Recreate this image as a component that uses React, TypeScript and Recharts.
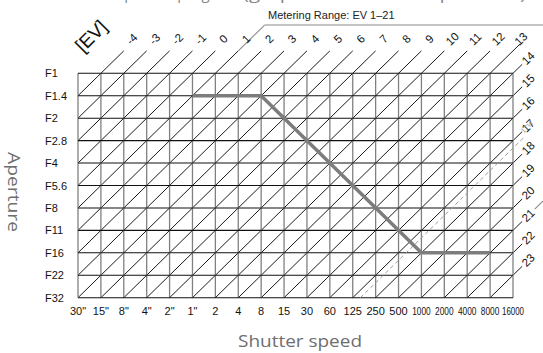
import React from 'react';
import { ComposedChart, XAxis, YAxis, Line, ReferenceLine, ReferenceDot } from 'recharts';

const shutterLabels = ['30"', '15"', '8"', '4"', '2"', '1"', '2', '4', '8', '15', '30', '60', '125', '250', '500', '1000', '2000', '4000', '8000', '16000'];
const apertureLabels = ['F1', 'F1.4', 'F2', 'F2.8', 'F4', 'F5.6', 'F8', 'F11', 'F16', 'F22', 'F32'];
const evTopLabels = [-4, -3, -2, -1, 0, 1, 2, 3, 4, 5, 6, 7, 8, 9, 10, 11, 12, 13];
const evRightLabels = [14, 15, 16, 17, 18, 19, 20, 21, 22, 23];
const programShutter = ['1"', '8', '1000', '8000'];
const programAperture = ['F1.4', 'F1.4', 'F16', 'F16'];
const meteringRange = [1, 21];
const dashedEV = 17 + 1 / 3;
const dashedLabel = '17⅓';

const W = 543;
const H = 353;
const nX = shutterLabels.length - 1;
const nY = apertureLabels.length - 1;
// EV 0 = F1 at 1 second
const evOffset = shutterLabels.indexOf('1"') + apertureLabels.indexOf('F1');

const programData = programShutter.map((s, n) => ({
  x: shutterLabels.indexOf(s),
  y: apertureLabels.indexOf(programAperture[n]),
}));

const FONT = '"Liberation Sans", Arial, sans-serif';
const TITLE_FONT = '"Open Sans", Lato, sans-serif';

const rotText = (txt: string, size: number, color: string, rot = -45) => (props: any) => (
  <text
    x={props.cx}
    y={props.cy}
    transform={`rotate(${rot} ${props.cx} ${props.cy})`}
    textAnchor="middle"
    dominantBaseline="central"
    fontSize={size}
    fill={color}
    fontFamily={FONT}
  >
    {txt}
  </text>
);

const XTick = (props: any) => {
  const label = shutterLabels[props.payload.value];
  const extra: any = {};
  let size = 11;
  if (label.length === 4) { extra.textLength = 18.5; extra.lengthAdjust = 'spacingAndGlyphs'; size = 10.5; }
  if (label.length === 5) { extra.textLength = 22; extra.lengthAdjust = 'spacingAndGlyphs'; size = 10.5; }
  return (
    <text x={props.x} y={315} textAnchor="middle" fontSize={size} fill="#111" fontFamily={FONT} {...extra}>
      {label}
    </text>
  );
};

const YTick = (props: any) => (
  <text x={45} y={props.y + 4} textAnchor="start" fontSize={11} fill="#111" fontFamily={FONT}>
    {apertureLabels[props.payload.value]}
  </text>
);

function evSegment(ev: number) {
  const k = ev + evOffset;
  const j0 = Math.min(nY, k);
  const i0 = k - j0;
  const i1 = Math.min(nX, k);
  const j1 = k - i1;
  return [{ x: i0, y: j0 }, { x: i1, y: j1 }];
}

export default function App() {
  const allEV = evTopLabels.concat(evRightLabels);
  const kStart = meteringRange[0] + evOffset;
  const kEnd = meteringRange[1] + evOffset;
  const kDash = dashedEV + evOffset;
  const bracketY = -2.15;
  return (
    <div style={{ position: 'absolute', left: 0, top: 0, width: W, height: H, background: '#fff' }}>
      <ComposedChart width={W} height={H} data={programData} margin={{ top: 73.3, right: 30, bottom: 30.3, left: 0 }}>
        <XAxis
          type="number"
          dataKey="x"
          domain={[0, nX]}
          ticks={shutterLabels.map((_, i) => i)}
          interval={0}
          tick={<XTick />}
          axisLine={false}
          tickLine={false}
          height={25}
          allowDataOverflow
        />
        <YAxis
          type="number"
          dataKey="y"
          domain={[0, nY]}
          reversed
          ticks={apertureLabels.map((_, i) => i)}
          interval={0}
          tick={<YTick />}
          axisLine={false}
          tickLine={false}
          width={78}
          allowDataOverflow
        />
        {allEV.map((ev) => (
          <ReferenceLine key={'ev' + ev} segment={evSegment(ev)} stroke="#000" strokeWidth={0.9} ifOverflow="visible" />
        ))}
        {evTopLabels.map((ev) => {
          const k = ev + evOffset;
          const ext = k === nX - 1 ? 1.3 : 1;
          return (
            <ReferenceLine key={'evt' + ev} segment={[{ x: k, y: 0 }, { x: k + ext, y: -ext }]} stroke="#000" strokeWidth={0.9} ifOverflow="visible" />
          );
        })}
        {evRightLabels.map((ev) => {
          const k = ev + evOffset;
          return (
            <ReferenceLine key={'evr' + ev} segment={[{ x: nX, y: k - nX }, { x: nX + 0.4, y: k - nX - 0.4 }]} stroke="#000" strokeWidth={0.9} ifOverflow="visible" />
          );
        })}
        {/* metering range bracket */}
        <ReferenceLine segment={[{ x: kStart + 1, y: -1 }, { x: kStart - bracketY, y: bracketY }]} stroke="#8a8a8a" strokeWidth={1.1} ifOverflow="visible" />
        <ReferenceLine segment={[{ x: kStart - bracketY, y: bracketY }, { x: nX + 3, y: bracketY }]} stroke="#8a8a8a" strokeWidth={1.1} ifOverflow="visible" />
        <ReferenceLine segment={[{ x: nX + 0.95, y: kEnd - nX - 0.95 }, { x: nX + 2.5, y: kEnd - nX - 2.5 }]} stroke="#8a8a8a" strokeWidth={1.1} ifOverflow="visible" />
        {shutterLabels.map((_, i) => (
          <ReferenceLine key={'vx' + i} x={i} stroke="#808080" strokeWidth={1.3} ifOverflow="visible" />
        ))}
        {apertureLabels.map((_, j) => (
          <ReferenceLine key={'hy' + j} y={j} stroke="#111" strokeWidth={1.1} ifOverflow="visible" />
        ))}
        <ReferenceLine
          segment={[{ x: kDash - nY, y: nY }, { x: nX + 0.5, y: kDash - nX - 0.5 }]}
          stroke="#999"
          strokeWidth={1}
          strokeDasharray="4 3"
          ifOverflow="visible"
        />
        {evTopLabels.map((ev) => {
          const k = ev + evOffset;
          return (
            <ReferenceDot key={'lt' + ev} x={k + 1.35} y={-1.53} r={1} ifOverflow="visible" shape={rotText(String(ev), 11.5, '#111')} />
          );
        })}
        {evRightLabels.map((ev) => {
          const k = ev + evOffset;
          return (
            <ReferenceDot key={'lr' + ev} x={nX + 0.66} y={k - nX - 0.67} r={1} ifOverflow="visible" shape={rotText(String(ev), 11.5, '#111')} />
          );
        })}
        <ReferenceDot x={nX + 0.6} y={kDash - nX - 0.94} r={1} ifOverflow="visible" shape={rotText(dashedLabel, 7, '#999')} />
        <ReferenceDot x={0.57} y={-1.66} r={1} ifOverflow="visible" shape={rotText('[EV]', 19, '#111')} />
        <Line
          type="linear"
          dataKey="y"
          stroke="#7d7d7d"
          strokeWidth={3.5}
          dot={false}
          activeDot={false}
          isAnimationActive={false}
        />
      </ComposedChart>
      <svg width={W} height={H} style={{ position: 'absolute', left: 0, top: 0, pointerEvents: 'none' }}>
        <text x={238} y={-1} textAnchor="end" fontSize={15} fill="#888" fontFamily={TITLE_FONT}>Exposure program</text>
        <text x={243} y={-1} fontSize={15} fill="#888" fontFamily={TITLE_FONT} textLength={283} lengthAdjust="spacingAndGlyphs">(graph for ISO 100 equivalent)</text>
        <text x={268} y={19} fontSize={11} fill="#222" fontFamily={FONT}>Metering Range: EV 1–21</text>
        <text
          x={14}
          y={192}
          transform="rotate(90 14 192)"
          textAnchor="middle"
          dominantBaseline="central"
          fontSize={17}
          fill="#6e6e6e"
          fontFamily={TITLE_FONT}
          textLength={80}
          lengthAdjust="spacingAndGlyphs"
        >
          Aperture
        </text>
        <text x={300} y={347} textAnchor="middle" fontSize={17} fill="#6e6e6e" fontFamily={TITLE_FONT} textLength={124} lengthAdjust="spacingAndGlyphs">
          Shutter speed
        </text>
      </svg>
    </div>
  );
}
